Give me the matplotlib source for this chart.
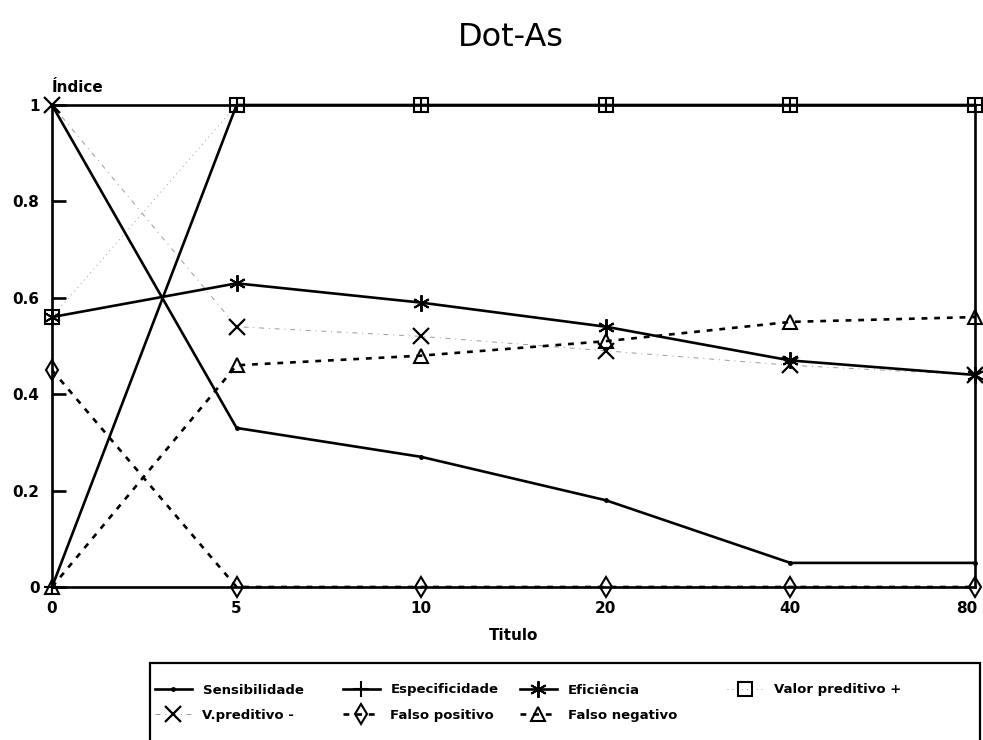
import matplotlib
matplotlib.use("Agg")
import matplotlib.pyplot as plt
from matplotlib.patches import Rectangle
from matplotlib.ticker import FixedLocator, FixedFormatter
from matplotlib.transforms import ScaledTranslation

plt.rcParams['font.family'] = ['DejaVu Sans']

# Títulos do antígeno (eixo x, espaçados igualmente)
titulos = ["0", "5", "10", "20", "40", "80"]

sensibilidade = [1.00, 0.33, 0.27, 0.18, 0.05, 0.05]
especificidade = [0.00, 1.00, 1.00, 1.00, 1.00, 1.00]
eficiencia = [0.56, 0.63, 0.59, 0.54, 0.47, 0.44]
valor_preditivo_pos = [0.56, 1.00, 1.00, 1.00, 1.00, 1.00]
valor_preditivo_neg = [1.00, 0.54, 0.52, 0.49, 0.46, 0.44]
falso_positivo = [0.45, 0.00, 0.00, 0.00, 0.00, 0.00]
falso_negativo = [0.00, 0.46, 0.48, 0.51, 0.55, 0.56]

y_ticks = [0, 0.2, 0.4, 0.6, 0.8, 1]
y_labels = ["0", "0.2", "0.4", "0.6", "0.8", "1"]

W, H = 983, 740
fig = plt.figure(figsize=(W / 100, H / 100), dpi=100)
ax = fig.add_axes([52 / W, 1 - 587 / H, (975 - 52) / W, (587 - 105) / H])

x = list(range(len(titulos)))
solid = dict(color="black", lw=1.9, clip_on=False)
dashed = dict(color="black", lw=1.9, linestyle=(0, (2.2, 2.6)), clip_on=False)
faint = dict(color="#9a9a9a", lw=0.7, clip_on=False)

h_vpn, = ax.plot(x, valor_preditivo_neg, marker="x", ms=11, mew=1.6, mec="black",
                 linestyle=(0, (5, 5, 1, 5)), label="V.preditivo -", **faint)
h_vpp, = ax.plot(x, valor_preditivo_pos, marker="s", ms=10, mew=1.5, mec="black",
                 mfc="none", linestyle=(0, (1, 4)), label="Valor preditivo +", **faint)
h_sen, = ax.plot(x, sensibilidade, marker="o", ms=2.5, label="Sensibilidade", **solid)
h_esp, = ax.plot(x, especificidade, marker="+", ms=12, mew=1.5, label="Especificidade", **solid)
h_efi, = ax.plot(x, eficiencia, marker=(6, 2, 0), ms=12, mew=1.4, label="Eficiência", **solid)
h_fp, = ax.plot(x, falso_positivo, marker="d", ms=10, mew=1.5, mfc="none",
                label="Falso positivo", **dashed)
h_fn, = ax.plot(x, falso_negativo, marker="^", ms=10, mew=1.5, mfc="none",
                label="Falso negativo", **dashed)

ax.set_xlim(0, len(titulos) - 1)
ax.set_ylim(0, 1)

for side in ["left", "right", "top", "bottom"]:
    ax.spines[side].set_linewidth(1.9)

ax.xaxis.set_major_locator(FixedLocator(x))
ax.xaxis.set_major_formatter(FixedFormatter(titulos))
ax.yaxis.set_major_locator(FixedLocator(y_ticks))
ax.yaxis.set_major_formatter(FixedFormatter(y_labels))
ax.tick_params(axis="y", direction="in", length=10, width=1.9, pad=9,
               labelsize=11)
ax.tick_params(axis="x", length=0, pad=10, labelsize=11)
for lbl in ax.get_xticklabels() + ax.get_yticklabels():
    lbl.set_fontweight("bold")

# keep the last x label inside the figure
last = ax.get_xticklabels()[-1]
last.set_transform(last.get_transform() + ScaledTranslation(-8 / 100, 0, fig.dpi_scale_trans))

ax.set_xlabel("Titulo", fontsize=11, fontweight="bold", labelpad=9)
ax.text(0.0, 1.02, "Índice", transform=ax.transAxes, ha="left", va="bottom",
        fontsize=11, fontweight="bold")

fig.text(511 / W, 1 - 38 / H, "Dot-As", ha="center", va="center", fontsize=23)

# legend box (runs past the bottom edge of the page)
fig.patches.append(Rectangle((150 / W, 1 - 748 / H), 830 / W, 85 / H,
                             transform=fig.transFigure, fill=False,
                             edgecolor="black", lw=1.6))

# one legend entry per slot: (handle, left x in px, row centre y in px)
slots = [(h_sen, 155, 690), (h_esp, 343, 690), (h_efi, 520, 690), (h_vpp, 727, 690),
         (h_vpn, 155, 715), (h_fp, 343, 715), (h_fn, 520, 715)]
for h, px, py in slots:
    fig.legend(handles=[h], loc="center left",
               bbox_to_anchor=(px / W, 1 - py / H), frameon=False,
               prop=dict(size=9.5, weight="bold"), handlelength=2.8,
               handletextpad=0.8, borderpad=0, borderaxespad=0)

fig.savefig("out.png", dpi=100, facecolor="white")
